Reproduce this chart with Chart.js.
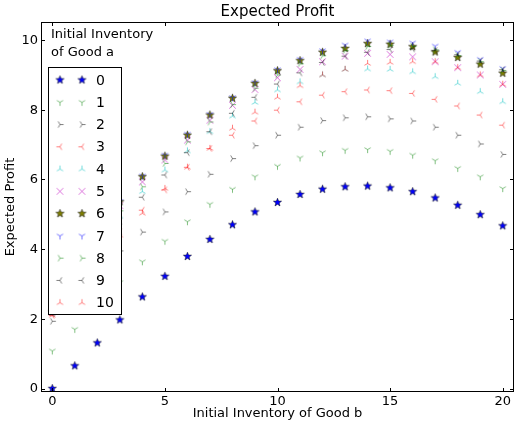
<!DOCTYPE html>
<html>
<head>
<meta charset="utf-8">
<script src="https://cdn.jsdelivr.net/npm/chart.js@4.4.0/dist/chart.umd.min.js"></script>
<style>
  html, body { margin: 0; padding: 0; background: #fff; }
  #wrap { width: 519px; height: 424px; position: relative; }
</style>
</head>
<body>
<div id="wrap"><canvas id="myChart" width="519" height="424"></canvas></div>
<script>
// initial inventory of good b (x axis)
const goodB = [0, 1, 2, 3, 4, 5, 6, 7, 8, 9, 10, 11, 12, 13, 14, 15, 16, 17, 18, 19, 20];

// expected profit, one list per initial inventory of good a
const profitA0 = [0, 0.65, 1.31, 1.97, 2.63, 3.22, 3.79, 4.28, 4.70, 5.07, 5.34, 5.57, 5.72, 5.79, 5.81, 5.76, 5.65, 5.47, 5.26, 4.99, 4.67];
const profitA1 = [1.08, 1.70, 2.40, 3.04, 3.64, 4.23, 4.79, 5.29, 5.72, 6.08, 6.38, 6.62, 6.77, 6.84, 6.86, 6.81, 6.70, 6.54, 6.32, 6.08, 5.74];
const profitA2 = [1.93, 2.70, 3.35, 3.95, 4.49, 5.07, 5.65, 6.15, 6.60, 6.97, 7.27, 7.50, 7.69, 7.77, 7.80, 7.74, 7.68, 7.50, 7.27, 7.02, 6.72];
const profitA3 = [2.10, 3.00, 3.80, 4.50, 5.12, 5.70, 6.35, 6.89, 7.27, 7.68, 7.99, 8.23, 8.42, 8.52, 8.57, 8.55, 8.47, 8.30, 8.11, 7.85, 7.56];
const profitA4 = [2.20, 3.30, 4.20, 4.95, 5.65, 6.27, 6.82, 7.37, 7.82, 8.21, 8.57, 8.80, 9.00, 9.16, 9.17, 9.16, 9.09, 8.95, 8.76, 8.52, 8.23];
const profitA5 = [2.20, 3.40, 4.40, 5.25, 5.93, 6.56, 7.13, 7.70, 8.13, 8.58, 8.92, 9.16, 9.38, 9.54, 9.62, 9.59, 9.52, 9.38, 9.21, 9.00, 8.73];
const profitA6 = [2.20, 3.50, 4.50, 5.36, 6.08, 6.67, 7.27, 7.85, 8.33, 8.76, 9.12, 9.41, 9.65, 9.76, 9.90, 9.88, 9.81, 9.66, 9.50, 9.31, 9.05];
const profitA7 = [2.20, 3.50, 4.50, 5.37, 6.10, 6.70, 7.30, 7.87, 8.35, 8.78, 9.15, 9.45, 9.70, 9.86, 9.98, 9.95, 9.92, 9.83, 9.65, 9.45, 9.19];
const profitA8 = [2.20, 3.30, 4.30, 5.10, 5.79, 6.46, 7.08, 7.65, 8.15, 8.62, 9.00, 9.32, 9.55, 9.70, 9.82, 9.85, 9.82, 9.72, 9.56, 9.38, 9.13];
const profitA9 = [2.15, 3.10, 4.00, 4.80, 5.49, 6.13, 6.77, 7.37, 7.90, 8.36, 8.74, 9.06, 9.36, 9.54, 9.65, 9.73, 9.75, 9.70, 9.58, 9.40, 9.15];
const profitA10 = [2.10, 2.90, 3.70, 4.40, 5.03, 5.74, 6.35, 6.89, 7.47, 7.93, 8.36, 8.69, 9.00, 9.16, 9.33, 9.36, 9.38, 9.38, 9.21, 9.00, 8.73];

const goodALabels = ['0', '1', '2', '3', '4', '5', '6', '7', '8', '9', '10'];
const xTicks = [0, 5, 10, 15, 20];
const yTicks = [0, 2, 4, 6, 8, 10];

const allProfits = [profitA0, profitA1, profitA2, profitA3, profitA4, profitA5,
                    profitA6, profitA7, profitA8, profitA9, profitA10];

// matplotlib-ish marker / colour cycle
const markerKinds = ['star', 'tri_down', 'tri_right', 'tri_left', 'tri_up', 'x',
                     'star', 'tri_down', 'tri_right', 'tri_left', 'tri_up'];
const markerColors = ['rgba(0,0,255,1)', 'rgba(0,128,0,0.5)', 'rgba(0,0,0,0.5)', 'rgba(255,0,0,0.5)',
                      'rgba(0,191,191,0.55)', 'rgba(191,0,191,0.55)', 'rgba(128,128,0,1)',
                      'rgba(0,0,255,0.55)', 'rgba(0,128,0,0.5)', 'rgba(0,0,0,0.5)', 'rgba(255,0,0,0.5)'];

const FONT = '"DejaVu Sans", sans-serif';

function makeMarker(kind, color) {
    const s = 11;
    const c = document.createElement('canvas');
    c.width = s;
    c.height = s;
    const g = c.getContext('2d');
    const m = s / 2;
    if (kind === 'star') {
        g.beginPath();
        for (let i = 0; i < 10; i++) {
            const r = i % 2 === 0 ? 4.3 : 1.8;
            const a = -Math.PI / 2 + i * Math.PI / 5;
            const px = m + r * Math.cos(a);
            const py = m + r * Math.sin(a);
            if (i === 0) g.moveTo(px, py); else g.lineTo(px, py);
        }
        g.closePath();
        g.fillStyle = color;
        g.fill();
        g.strokeStyle = 'rgba(0,0,0,0.8)';
        g.lineWidth = 0.6;
        g.stroke();
        return c;
    }
    g.strokeStyle = color;
    g.lineWidth = 1;
    g.beginPath();
    if (kind === 'x') {
        const r = 3.3;
        g.moveTo(m - r, m - r); g.lineTo(m + r, m + r);
        g.moveTo(m - r, m + r); g.lineTo(m + r, m - r);
    } else {
        const r = 3.6;
        let angles;
        if (kind === 'tri_down') angles = [90, 210, 330];
        else if (kind === 'tri_up') angles = [270, 30, 150];
        else if (kind === 'tri_left') angles = [180, 300, 60];
        else angles = [0, 120, 240];
        angles.forEach(function (d) {
            const a = d * Math.PI / 180;
            g.moveTo(m, m);
            g.lineTo(m + r * Math.cos(a), m + r * Math.sin(a));
        });
    }
    g.stroke();
    return c;
}

const markerImages = markerKinds.map(function (k, i) { return makeMarker(k, markerColors[i]); });

const datasets = allProfits.map(function (vals, i) {
    return {
        label: goodALabels[i],
        data: goodB.map(function (b, j) { return { x: b, y: vals[j] }; }),
        pointStyle: markerImages[i],
        pointRadius: 4,
        showLine: false,
        order: allProfits.length - i
    };
});

const decorPlugin = {
    id: 'decor',
    afterDraw(chart) {
        const ctx = chart.ctx;
        const area = chart.chartArea;
        const xs = chart.scales.x;
        const ys = chart.scales.y;
        ctx.save();

        // frame
        ctx.strokeStyle = '#000';
        ctx.lineWidth = 1;
        ctx.strokeRect(area.left + 0.5, area.top + 0.5, area.right - area.left - 1, area.bottom - area.top - 1);

        // inward ticks on all four sides + tick labels
        ctx.beginPath();
        xTicks.forEach(function (v) {
            const px = Math.round(xs.getPixelForValue(v)) + 0.5;
            ctx.moveTo(px, area.bottom); ctx.lineTo(px, area.bottom - 4);
            ctx.moveTo(px, area.top); ctx.lineTo(px, area.top + 4);
        });
        yTicks.forEach(function (v) {
            const py = Math.round(ys.getPixelForValue(v)) + 0.5;
            ctx.moveTo(area.left, py); ctx.lineTo(area.left + 4, py);
            ctx.moveTo(area.right, py); ctx.lineTo(area.right - 4, py);
        });
        ctx.stroke();

        ctx.fillStyle = '#000';
        ctx.font = '13px ' + FONT;
        ctx.textAlign = 'center';
        ctx.textBaseline = 'middle';
        xTicks.forEach(function (v) {
            ctx.fillText(String(v), xs.getPixelForValue(v), area.bottom + 10);
        });
        ctx.textAlign = 'right';
        yTicks.forEach(function (v) {
            ctx.fillText(String(v), area.left - 3, ys.getPixelForValue(v) + 0.5);
        });

        // titles
        ctx.textAlign = 'center';
        ctx.font = '15px ' + FONT;
        ctx.fillText('Expected Profit', (area.left + area.right) / 2, 12);
        ctx.font = '13px ' + FONT;
        ctx.fillText('Initial Inventory of Good b', (area.left + area.right) / 2, 414);
        ctx.save();
        ctx.translate(11, (area.top + area.bottom) / 2);
        ctx.rotate(-Math.PI / 2);
        ctx.fillText('Expected Profit', 0, 0);
        ctx.restore();

        // legend heading
        ctx.textAlign = 'left';
        ctx.font = '13px ' + FONT;
        ctx.fillText('Initial Inventory', 51, 35);
        ctx.fillText('of Good a', 51, 53);

        // legend box
        const bx = 48.5, by = 67.5, bw = 73, bh = 247;
        ctx.fillStyle = '#fff';
        ctx.fillRect(bx, by, bw, bh);
        ctx.strokeStyle = '#000';
        ctx.strokeRect(bx, by, bw, bh);
        ctx.fillStyle = '#000';
        ctx.font = '14px ' + FONT;
        goodALabels.forEach(function (lab, i) {
            const ly = 80 + i * 22.27;
            const img = markerImages[i];
            ctx.drawImage(img, 60 - img.width / 2, ly - img.height / 2);
            ctx.drawImage(img, 82 - img.width / 2, ly - img.height / 2);
            ctx.fillText(lab, 96, ly + 1);
        });
        ctx.restore();
    }
};

const ctx = document.getElementById('myChart').getContext('2d');
new Chart(ctx, {
    type: 'scatter',
    data: { datasets: datasets },
    options: {
        responsive: false,
        animation: false,
        events: [],
        layout: { padding: { top: 22, right: 1, left: 0, bottom: 0 } },
        plugins: {
            legend: { display: false },
            tooltip: { enabled: false },
            title: { display: false }
        },
        scales: {
            x: {
                type: 'linear',
                min: -0.5,
                max: 20.5,
                grid: { display: false },
                border: { display: false },
                afterBuildTicks: function (s) { s.ticks = xTicks.map(function (v) { return { value: v }; }); },
                afterFit: function (s) { s.height = 32; },
                ticks: { display: false }
            },
            y: {
                type: 'linear',
                min: -0.1,
                max: 10.52,
                grid: { display: false },
                border: { display: false },
                afterBuildTicks: function (s) { s.ticks = yTicks.map(function (v) { return { value: v }; }); },
                afterFit: function (s) { s.width = 41; },
                ticks: { display: false }
            }
        }
    },
    plugins: [decorPlugin]
});
</script>
</body>
</html>
